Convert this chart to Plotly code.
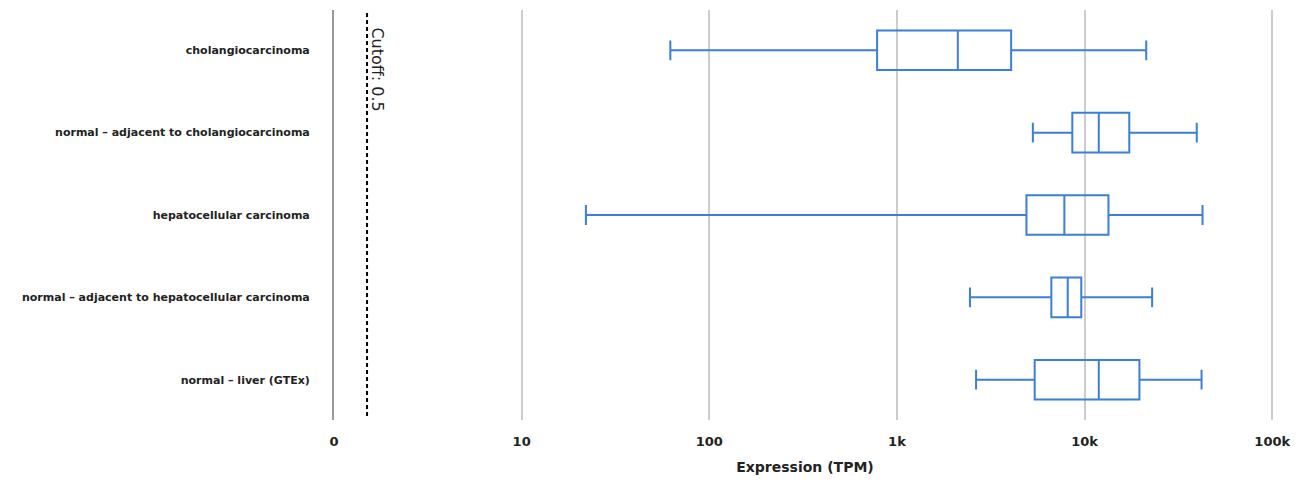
import math
import plotly.graph_objects as go

labels = [
    "cholangiocarcinoma",
    "normal \u2013 adjacent to cholangiocarcinoma",
    "hepatocellular carcinoma",
    "normal \u2013 adjacent to hepatocellular carcinoma",
    "normal \u2013 liver (GTEx)",
]
# TPM values (box statistics)
lower = [62, 5300, 22, 2450, 2640]
q1 = [784, 8600, 4900, 6650, 5420]
median = [2110, 11900, 7800, 8130, 11900]
q3 = [4060, 17300, 13400, 9600, 19600]
upper = [21300, 39600, 42500, 22900, 42000]

cutoff = 0.5
tick_vals = [0, 10, 100, 1000, 10000, 100000]
tick_text = ["0", "10", "100", "1k", "10k", "100k"]

def tr(v):
    # log axis: 0 is drawn at 1
    return [max(x, 1) for x in v]

fig = go.Figure()
fig.add_trace(go.Box(
    y=labels,
    q1=tr(q1), median=tr(median), q3=tr(q3),
    lowerfence=tr(lower), upperfence=tr(upper),
    orientation="h",
    line=dict(color="#3a7fd8", width=2),
    fillcolor="rgba(255,255,255,0)",
    whiskerwidth=0.5,
    width=0.48,
    boxpoints=False,
    hoverinfo="skip",
    showlegend=False,
))

fig.add_shape(type="line", xref="x", yref="paper",
              x0=cutoff + 1, x1=cutoff + 1, y0=0.01, y1=1,
              line=dict(color="black", width=2, dash="4px,3px"))
fig.add_annotation(x=math.log10(cutoff + 1), xref="x", y=0.855, yref="paper",
                   yanchor="middle", xanchor="center",
                   text="Cutoff: 0.5", textangle=90, showarrow=False,
                   xshift=11, font=dict(family="DejaVu Sans", size=16, color="#222"))

fig.update_layout(
    width=1300, height=487,
    margin=dict(l=334, r=16, t=10, b=67),
    plot_bgcolor="white", paper_bgcolor="white",
    font=dict(family="DejaVu Sans", color="#222"),
)
fig.update_xaxes(
    type="log", range=[0, 5.02],
    tickvals=[max(v, 1) for v in tick_vals], ticktext=tick_text,
    showgrid=True, gridcolor="#cccccc", gridwidth=1.5,
    zeroline=False, showline=False,
    ticks="", ticklabelstandoff=12,
    tickfont=dict(family="DejaVu Sans", size=13, weight="bold", color="#222"),
    title=dict(text="Expression (TPM)", standoff=14,
               font=dict(family="DejaVu Sans", size=14, weight="bold", color="#222")),
)
fig.update_yaxes(
    categoryorder="array", categoryarray=labels, autorange="reversed",
    showgrid=False, zeroline=False,
    showline=True, linecolor="#999999", linewidth=2,
    ticks="", ticklabelstandoff=20,
    tickfont=dict(family="DejaVu Sans", size=11, weight="bold", color="#222"),
)
fig.write_html("out.html")
